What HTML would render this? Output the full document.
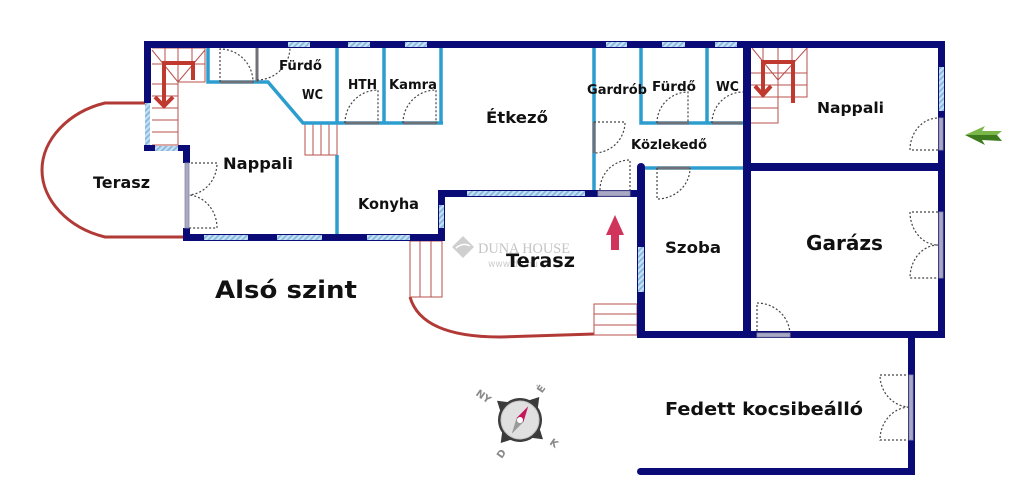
<!DOCTYPE html>
<html><head><meta charset="utf-8"><style>
html,body{margin:0;padding:0;background:#fff;}
svg{display:block;}
text{font-family:"DejaVu Sans","Liberation Sans",sans-serif;font-weight:bold;fill:#111;}
</style></head><body>
<svg width="1024" height="504" viewBox="0 0 1024 504" xmlns="http://www.w3.org/2000/svg">
<defs>
<pattern id="h" width="4" height="4" patternUnits="userSpaceOnUse" patternTransform="rotate(45)">
<rect width="4" height="4" fill="#c6dff2"/><line x1="1" y1="0" x2="1" y2="4" stroke="#7db4df" stroke-width="1.6"/>
</pattern>
</defs>
<rect width="1024" height="504" fill="#fff"/>

<!-- red terrace outlines -->
<g fill="none" stroke="#b23a36" stroke-width="3">
<path d="M148,103 L105,103 C68,112 42,140 42,170 C42,200 68,228 105,237 L184,237"/>
<path d="M410,297 C418,325 450,337 500,337 L594,334"/>
</g>

<!-- stairs thin -->
<g fill="none" stroke="#b8524e" stroke-width="1">
<path d="M152,48 L205,48 L205,82 L178,82 L178,145 L152,145"/>
<line x1="152" y1="96" x2="178" y2="96"/><line x1="152" y1="108" x2="178" y2="108"/>
<line x1="152" y1="120" x2="178" y2="120"/><line x1="152" y1="132" x2="178" y2="132"/>
<line x1="152" y1="84" x2="178" y2="84"/>
<line x1="152" y1="50" x2="178" y2="82"/><line x1="205" y1="50" x2="178" y2="82"/>
<line x1="165" y1="48" x2="165" y2="64"/><line x1="178" y1="48" x2="178" y2="82"/><line x1="192" y1="48" x2="192" y2="64"/>
<line x1="152" y1="64" x2="166" y2="64"/><line x1="190" y1="64" x2="205" y2="64"/>
<!-- small stair -->
<rect x="305" y="123" width="32" height="32"/>
<line x1="313" y1="123" x2="313" y2="155"/><line x1="321" y1="123" x2="321" y2="155"/><line x1="329" y1="123" x2="329" y2="155"/>
<!-- right stair -->
<path d="M751,97 L807,97 L807,48 M778,97 L778,123 L751,123"/>
<line x1="751" y1="73" x2="807" y2="73"/><line x1="751" y1="85" x2="807" y2="85"/>
<line x1="751" y1="108" x2="778" y2="108"/>
<line x1="752" y1="48" x2="778" y2="80"/><line x1="807" y1="48" x2="778" y2="80"/>
<line x1="763" y1="48" x2="763" y2="62"/><line x1="778" y1="48" x2="778" y2="97"/><line x1="792" y1="48" x2="792" y2="62"/>
<!-- terrace stairs -->
<rect x="410" y="241" width="32" height="56"/>
<line x1="420" y1="241" x2="420" y2="297"/><line x1="431" y1="241" x2="431" y2="297"/>
<rect x="594" y="304" width="43" height="31"/>
<line x1="594" y1="314" x2="637" y2="314"/><line x1="594" y1="325" x2="637" y2="325"/>
</g>

<!-- red stair arrows -->
<g fill="none" stroke="#c0392f" stroke-width="4" stroke-linejoin="miter">
<path d="M193,80 L193,63 L164,63 L164,106"/>
<path d="M155,97 L164,106 L173,97"/>
<path d="M793,103 L793,62 L763,62 L763,95"/>
<path d="M755,86 L763,95 L771,86"/>
</g>

<!-- blue interior walls -->
<g fill="none" stroke="#2d9dd0" stroke-width="3.5">
<path d="M208,48 L208,82 L268,82 L303,123 L443,123"/>
<line x1="337" y1="48" x2="337" y2="123"/>
<line x1="337" y1="155" x2="337" y2="236"/>
<line x1="384" y1="48" x2="384" y2="123"/>
<line x1="441" y1="48" x2="441" y2="123"/>
<line x1="594" y1="48" x2="594" y2="192"/>
<path d="M641,48 L641,123 L743,123"/>
<line x1="707" y1="48" x2="707" y2="123"/>
<line x1="643" y1="168" x2="743" y2="168"/>
</g>
<!-- door leaves (gray segments on walls) -->
<g stroke="#6f7078" stroke-width="3" fill="none">
<line x1="220" y1="82" x2="254" y2="82"/>
<line x1="257" y1="48" x2="257" y2="82"/>
<line x1="345" y1="123" x2="379" y2="123"/>
<line x1="403" y1="123" x2="437" y2="123"/>
<line x1="594" y1="122" x2="594" y2="153"/>
<line x1="657" y1="123" x2="689" y2="123"/>
<line x1="712" y1="123" x2="742" y2="123"/>
<line x1="657" y1="168" x2="690" y2="168"/>
</g>

<!-- dashed door swings -->
<g fill="none" stroke="#444" stroke-width="1.2" stroke-dasharray="2 2">
<path d="M220,82 L220,49 A33,33 0 0 1 253,82"/>
<path d="M257,80 A33,33 0 0 0 290,47"/>
<path d="M345,123 A33,33 0 0 1 378,90 L378,123"/>
<path d="M403,123 A33,33 0 0 1 436,90 L436,123"/>
<path d="M594,122 L625,122 A31,31 0 0 1 594,153"/>
<path d="M657,123 A31,31 0 0 1 688,92 L688,123"/>
<path d="M712,123 A31,31 0 0 1 743,92"/>
<path d="M600,190 A30,30 0 0 1 630,160 L630,190"/>
<path d="M657,168 L657,199 A33,31 0 0 0 690,168"/>
<path d="M187,163 L217,163 A30,32 0 0 1 188,195 A30,33 0 0 1 217,228 L187,228"/>
<path d="M938,150 L910,150 A28,32 0 0 1 938,118"/>
<path d="M938,212 L910,212 A28,33 0 0 0 938,245 A28,33 0 0 0 910,278 L938,278"/>
<path d="M757,335 L757,303 A33,32 0 0 1 790,335"/>
<path d="M910,375 L880,375 A30,32 0 0 0 910,407 A30,33 0 0 0 880,440 L910,440"/>
</g>

<!-- dark walls -->
<g fill="#0b0b78">
<rect x="144" y="41" width="801" height="7"/>
<rect x="144" y="41" width="7" height="62"/>
<rect x="144" y="145" width="11" height="6"/>
<rect x="178" y="145" width="12" height="6"/>
<rect x="183" y="145" width="7" height="18"/>
<rect x="183" y="228" width="7" height="13"/>
<rect x="183" y="234" width="262" height="7"/>
<rect x="438" y="190" width="7" height="51"/>
<rect x="438" y="190" width="207" height="7"/>
<rect x="637" y="167" width="8" height="171"/>
<circle cx="641" cy="167" r="4"/>
<rect x="637" y="331" width="308" height="7"/>
<rect x="743" y="41" width="8" height="297"/>
<rect x="938" y="41" width="7" height="297"/>
<rect x="743" y="163" width="202" height="8"/>
<rect x="908" y="331" width="7" height="144"/>
<rect x="637" y="468" width="278" height="7" rx="3.5"/>
</g>
<!-- windows -->
<g fill="url(#h)">
<rect x="288" y="42" width="22" height="5"/>
<rect x="348" y="42" width="22" height="5"/>
<rect x="405" y="42" width="22" height="5"/>
<rect x="606" y="42" width="21" height="5"/>
<rect x="662" y="42" width="23" height="5"/>
<rect x="715" y="42" width="22" height="5"/>
<rect x="145" y="103" width="5" height="42"/>
<rect x="155" y="146" width="23" height="5"/>
<rect x="204" y="235" width="44" height="5"/>
<rect x="277" y="235" width="45" height="5"/>
<rect x="367" y="235" width="43" height="5"/>
<rect x="439" y="205" width="5" height="23"/>
<rect x="467" y="191" width="118" height="5"/>
<rect x="638" y="247" width="6" height="45"/>
<rect x="939" y="67" width="5" height="44"/>
</g>
<!-- door panels in walls -->
<g fill="#a9a9c6" stroke="#8a8aa8" stroke-width="0.8">
<rect x="185" y="163" width="4" height="65"/>
<rect x="598" y="191" width="32" height="5"/>
<rect x="757" y="333" width="33" height="4"/>
<rect x="939" y="118" width="4" height="32"/>
<rect x="939" y="212" width="4" height="66"/>
<rect x="909" y="375" width="4" height="65"/>
</g>

<!-- watermark -->
<polygon points="463,236 474,247 463,258 452,247" fill="#cfcfcf"/>
<path d="M456,248 Q463,242 470,246" stroke="#fff" stroke-width="1.5" fill="none"/>
<text x="478" y="253" style="font-family:'Liberation Serif',serif;font-weight:normal;fill:#c4c4c4;font-size:15px" textLength="92" lengthAdjust="spacingAndGlyphs">DUNA HOUSE</text>
<text x="488" y="267" style="font-weight:normal;fill:#cfcfcf;font-size:10px" textLength="50" lengthAdjust="spacingAndGlyphs">www.dh.hu</text>

<!-- red up arrow -->
<path d="M615,215 L624,235 L619,235 L619,250 L611,250 L611,235 L606,235 Z" fill="#d0345a"/>
<!-- green arrow -->
<path d="M965,135 L985,126 L982,131 L1002,131 L997,135 Z" fill="#7ab648"/>
<path d="M965,135 L997,135 L1002,141 L982,140 L985,145 Z" fill="#3d7a1e"/>

<!-- compass -->
<g transform="translate(520,420) rotate(40)">
<polygon points="-7,-19 0,-30 7,-19" fill="#3a3a3a"/>
<polygon points="19,-7 30,0 19,7" fill="#3a3a3a"/>
<polygon points="-7,19 0,30 7,19" fill="#3a3a3a"/>
<polygon points="-19,-7 -30,0 -19,7" fill="#3a3a3a"/>
<circle r="22" fill="#3d3d3d"/>
<circle r="19" fill="#e0e0e0" stroke="#c4c4c4" stroke-width="1"/>
</g>
<g transform="translate(520,420) rotate(31)">
<polygon points="-4,0 0,-16 4,0" fill="#c2185b"/>
<polygon points="-4,0 0,16 4,0" fill="#9a9a9a"/>
<circle r="3" fill="#fff"/>
</g>
<text x="537" y="392" style="fill:#8a8a8a;font-size:10px" transform="rotate(-55 541 388)">É</text>
<text x="551" y="447" style="fill:#8a8a8a;font-size:10px" transform="rotate(35 555 442)">K</text>
<text x="496" y="458" style="fill:#8a8a8a;font-size:10px" transform="rotate(-55 500 453)">D</text>
<text x="476" y="400" style="fill:#8a8a8a;font-size:10px" transform="rotate(35 484 396)">NY</text>

<!-- labels -->
<text x="93" y="188" style="font-size:16px" textLength="57" lengthAdjust="spacingAndGlyphs">Terasz</text>
<text x="223" y="169" style="font-size:16px" textLength="70" lengthAdjust="spacingAndGlyphs">Nappali</text>
<text x="358" y="209" style="font-size:15px" textLength="61" lengthAdjust="spacingAndGlyphs">Konyha</text>
<text x="348" y="89" style="font-size:13px" textLength="29" lengthAdjust="spacingAndGlyphs">HTH</text>
<text x="389" y="89" style="font-size:13px" textLength="48" lengthAdjust="spacingAndGlyphs">Kamra</text>
<text x="302" y="99" style="font-size:13px" textLength="21" lengthAdjust="spacingAndGlyphs">WC</text>
<text x="279" y="70" style="font-size:13px" textLength="43" lengthAdjust="spacingAndGlyphs">Fürdő</text>
<text x="486" y="123" style="font-size:16px" textLength="62" lengthAdjust="spacingAndGlyphs">Étkező</text>
<text x="587" y="94" style="font-size:13px" textLength="60" lengthAdjust="spacingAndGlyphs">Gardrób</text>
<text x="652" y="91" style="font-size:13px" textLength="44" lengthAdjust="spacingAndGlyphs">Fürdő</text>
<text x="716" y="91" style="font-size:13px" textLength="23" lengthAdjust="spacingAndGlyphs">WC</text>
<text x="631" y="149" style="font-size:13px" textLength="76" lengthAdjust="spacingAndGlyphs">Közlekedő</text>
<text x="817" y="113" style="font-size:15px" textLength="67" lengthAdjust="spacingAndGlyphs">Nappali</text>
<text x="806" y="250" style="font-size:20px" textLength="77" lengthAdjust="spacingAndGlyphs">Garázs</text>
<text x="665" y="253" style="font-size:16px" textLength="56" lengthAdjust="spacingAndGlyphs">Szoba</text>
<text x="506" y="267" style="font-size:19px" textLength="69" lengthAdjust="spacingAndGlyphs">Terasz</text>
<text x="215" y="298" style="font-size:24px" textLength="142" lengthAdjust="spacingAndGlyphs">Alsó szint</text>
<text x="665" y="415" style="font-size:18px" textLength="198" lengthAdjust="spacingAndGlyphs">Fedett kocsibeálló</text>
</svg>
</body></html>
